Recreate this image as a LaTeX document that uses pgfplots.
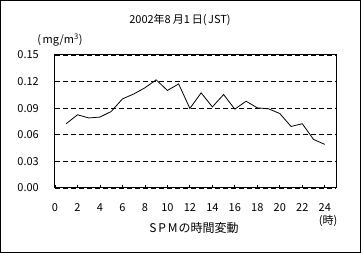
\documentclass[border=0pt]{standalone}
\usepackage{fontspec}
\setmainfont{Noto Sans CJK JP}
\usepackage{pgfplots}
\pgfplotsset{compat=1.18}
\begin{document}
\fontsize{11bp}{13bp}\selectfont
\begin{tikzpicture}[x=1bp,y=1bp]
\draw[line width=1bp] (0.5,0.5) rectangle (360.5,252.5);
\begin{axis}[
  at={(55bp,65bp)}, anchor=south west,
  scale only axis, width=281bp, height=133bp,
  xmin=0, xmax=25, ymin=0, ymax=0.15,
  xtick={0,2,...,24},
  ytick={0,0.03,0.06,0.09,0.12,0.15},
  axis line style={line width=1bp},
  xtick pos=bottom, ytick pos=left,
  xtick style={black, line width=0.8bp},
  major tick length=3bp,
  ytick style={draw=none},
  tick align=inside,
  ymajorgrids,
  grid style={black, line width=0.8bp, dash pattern=on 5bp off 3bp},
  /pgf/number format/assume math mode=true,
  yticklabel style={/pgf/number format/fixed, /pgf/number format/fixed zerofill, /pgf/number format/precision=2, font=\fontsize{11bp}{13bp}\selectfont, anchor=east, inner sep=0pt, xshift=-16bp},
  xticklabel style={font=\fontsize{11bp}{13bp}\selectfont, anchor=north, inner sep=0pt, yshift=-15bp},
  scaled y ticks=false,
]
\addplot[black, line width=0.8bp] coordinates {
(1,0.0725) (2,0.0826) (3,0.079) (4,0.080) (5,0.0863) (6,0.1005) (7,0.106) (8,0.113)
(9,0.122) (10,0.110) (11,0.1174) (12,0.0897) (13,0.1073) (14,0.0915) (15,0.1054)
(16,0.0889) (17,0.0979) (18,0.0904) (19,0.0893) (20,0.084) (21,0.0694) (22,0.0725)
(23,0.0548) (24,0.0492)
};
\end{axis}
\node at (180,233) {2002年8\hspace{2bp}月1\hspace{2bp}日(\hspace{1.5bp}JST)};
\node at (60,213) {(\hspace{1.5bp}mg/m\textsuperscript{3})};
\node at (194,25) {\fontsize{12bp}{14bp}\selectfont S\hspace{2bp}P\hspace{2bp}M\hspace{1bp}の時間変動};
\node at (328,32) {(時)};
\end{tikzpicture}
\end{document}
